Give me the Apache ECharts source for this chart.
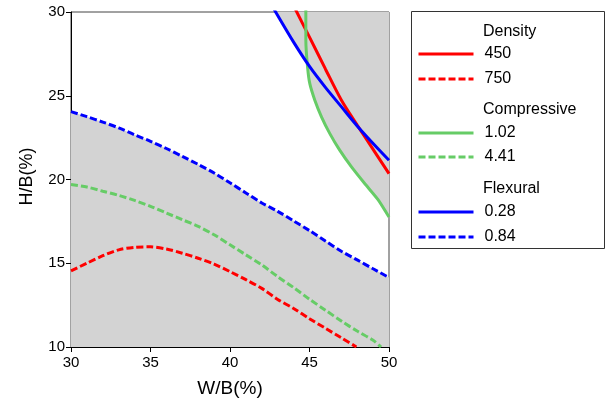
<!DOCTYPE html>
<html>
<head>
<meta charset="utf-8">
<script src="https://cdn.jsdelivr.net/npm/echarts@6/dist/echarts.min.js"></script>
<style>
  html, body { margin: 0; padding: 0; background: #fff; }
  #chart { width: 609px; height: 400px; }
</style>
</head>
<body>
<div id="chart"></div>
<script>
// Contour lines of H/B (%) against W/B (%) for each property level.
// Each curve is a list of [W/B, H/B] points.

// Density
const density450 = [[44.05, 30.3], [44.2, 30], [45, 28.5], [46, 26.6], [47, 24.75], [48, 23.25], [49, 21.8], [50, 20.35]];
const density750 = [[30, 14.55], [31, 15.0], [32, 15.45], [33, 15.8], [34, 15.95], [35, 15.98], [36, 15.85], [37, 15.6],
  [38, 15.3], [39, 14.95], [40, 14.5], [41, 14.02], [42, 13.5], [43, 12.84], [44, 12.3], [45, 11.69], [46, 11.12],
  [47, 10.55], [47.95, 10.0]];

// Compressive strength
const compressive102 = [[44.77, 30.5], [44.77, 30], [44.77, 28.3], [44.88, 26.7], [45.02, 25.72], [45.34, 24.72],
  [45.76, 23.73], [46.28, 22.74], [46.9, 21.75], [47.64, 20.75], [48.47, 19.76], [49.31, 18.8], [50, 17.76]];
const compressive441 = [[30, 19.7], [31, 19.55], [32, 19.3], [33, 19.05], [34, 18.75], [35, 18.4], [36, 18.0], [37, 17.6],
  [38, 17.2], [39, 16.7], [40, 16.1], [41, 15.5], [42, 14.9], [43, 14.2], [44, 13.55], [45, 12.85], [46, 12.2],
  [47, 11.55], [48, 10.95], [49, 10.4], [49.5, 10.0]];

// Flexural strength
const flexural028 = [[42.7, 30.3], [42.87, 30], [44, 28.2], [45, 26.75], [46, 25.5], [47, 24.35], [48, 23.2], [49, 22.15], [50, 21.15]];
const flexural084 = [[30, 24.05], [31, 23.75], [32, 23.43], [33, 23.08], [34, 22.67], [35, 22.28], [36, 21.85], [37, 21.38],
  [38, 20.9], [39, 20.39], [40, 19.8], [41, 19.2], [42, 18.6], [43, 18.1], [44, 17.53], [45, 16.95], [46, 16.33],
  [47, 15.72], [48, 15.2], [49, 14.67], [50, 14.15]];

const groupTitles = ['Density', 'Compressive', 'Flexural'];
const groupLevels = [['450', '750'], ['1.02', '4.41'], ['0.28', '0.84']];

const RED = '#ff0000', GREEN = '#66cc66', BLUE = '#0000ff', FILL = '#d3d3d3';
const FONT = '"Liberation Sans", Arial, sans-serif';

function contour(name, data, color, dashed, smooth) {
  return {
    name, type: 'line', data, smooth: smooth, symbol: 'none', z: 3,
    lineStyle: { color, width: 3, type: dashed ? [7, 3] : 'solid' },
    itemStyle: { color },
    emphasis: { disabled: true }
  };
}
function region(name, data, origin, smooth) {
  return {
    name, type: 'line', data, smooth: smooth, symbol: 'none', z: 1,
    lineStyle: { width: 0, color: FILL },
    areaStyle: { color: FILL, opacity: 1, origin },
    emphasis: { disabled: true }
  };
}

const legendTops = [46, 125, 204];
const legendGaps = [9, 8, 9];
const legends = groupLevels.map((names, i) => ({
  data: names, orient: 'vertical', left: 417, top: legendTops[i], padding: 0,
  itemWidth: 55, itemHeight: 14, itemGap: legendGaps[i], selectedMode: false,
  itemStyle: { color: 'transparent', borderColor: 'transparent', borderWidth: 0, opacity: 0 },
  lineStyle: { width: 3 },
  textStyle: { fontFamily: FONT, fontSize: 16, color: '#000', padding: [0, 0, 0, 6] }
}));

const headerY = [32, 110, 189];

const chart = echarts.init(document.getElementById('chart'), null, { renderer: 'canvas' });
chart.setOption({
  animation: false,
  backgroundColor: '#fff',
  grid: {
    left: 71, right: 220, top: 12, bottom: 53, containLabel: false, outerBoundsMode: 'none',
    show: true, borderColor: '#444', borderWidth: 1, backgroundColor: 'transparent'
  },
  xAxis: {
    type: 'value', min: 30, max: 50, interval: 5,
    name: 'W/B(%)', nameLocation: 'middle', nameGap: 32,
    nameTextStyle: { fontFamily: FONT, fontSize: 19, color: '#000' },
    axisLine: { show: true, lineStyle: { color: '#000', width: 1 } },
    axisTick: { show: true, length: 5, lineStyle: { color: '#000' } },
    axisLabel: { fontFamily: FONT, fontSize: 15, color: '#000', margin: 8 },
    splitLine: { show: false }
  },
  yAxis: {
    type: 'value', min: 10, max: 30, interval: 5,
    name: 'H/B(%)', nameLocation: 'middle', nameGap: 35, nameRotate: 90,
    nameTextStyle: { fontFamily: FONT, fontSize: 18, color: '#000', padding: [0, 0, 0, 6] },
    axisLine: { show: true, lineStyle: { color: '#000', width: 1 } },
    axisTick: { show: true, length: 5, lineStyle: { color: '#000' } },
    axisLabel: { fontFamily: FONT, fontSize: 15, color: '#000', margin: 6 },
    splitLine: { show: false }
  },
  legend: legends,
  graphic: [
    {
      type: 'rect', shape: { x: 411.5, y: 11.5, width: 193, height: 237 },
      style: { fill: 'transparent', stroke: '#333', lineWidth: 1 }, z: 0, silent: true
    },
    ...groupTitles.map((t, i) => ({
      type: 'text', x: 483, y: headerY[i], silent: true,
      style: { text: t, font: '16px ' + FONT, fill: '#000', verticalAlign: 'middle', align: 'left' }
    }))
  ],
  series: [
    region('below-0.84', flexural084, 'start', 0.3),
    region('above-0.28', flexural028, 'end', 0.3),
    region('above-1.02', compressive102, 'end', 0.2),
    contour('450', density450, RED, false, 0.3),
    contour('750', density750, RED, true, 0.3),
    contour('1.02', compressive102, GREEN, false, 0.2),
    contour('4.41', compressive441, GREEN, true, 0.3),
    contour('0.28', flexural028, BLUE, false, 0.3),
    contour('0.84', flexural084, BLUE, true, 0.3)
  ]
});
</script>
</body>
</html>
